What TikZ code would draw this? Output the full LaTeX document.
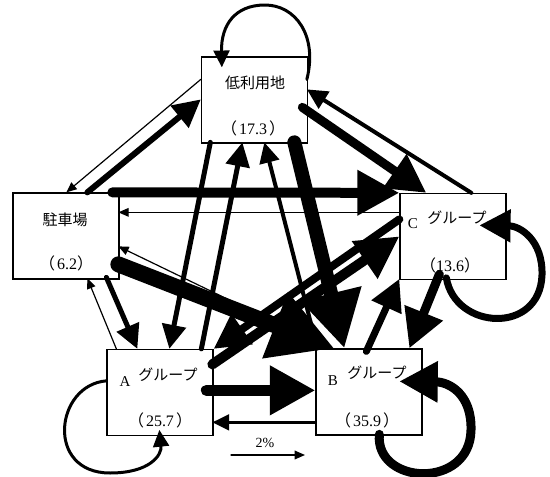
\documentclass[tikz,border=0pt]{standalone}
\usepackage{fontspec}
\setmainfont{Liberation Serif}
\newfontfamily\jp{Noto Sans CJK JP}
\usetikzlibrary{arrows.meta,calc}
\begin{document}
\begin{tikzpicture}[x=1pt,y=-1pt,
  box/.style={draw, line width=1.3pt, minimum width=106pt, minimum height=86pt, inner sep=0pt},
  fl/.style={line width=#1, line cap=round, -{Triangle[length=6pt 3.6, width=4pt 3.9]}},
  lb/.style={font=\jp\fontsize{15}{15}\selectfont, inner sep=0pt},
  num/.style={font=\fontsize{16}{16}\selectfont, inner sep=0pt},
  let/.style={font=\fontsize{15}{15}\selectfont, inner sep=0pt}
]
\useasboundingbox (0,0) rectangle (550,477);
% boxes
\node[box] (L) at (254.5,100) {};
\node[box] (P) at (66,236) {};
\node[box] (C) at (453,236.5) {};
\node[box] (A) at (160,392.5) {};
\node[box] (B) at (369,392) {};
% labels
\node[lb] (Lt) at (255,83) {低利用地};
\node[num] (Ln) at (253,128) {{\jp （}\hspace{2pt}17.3\hspace{2pt}{\jp ）}};
\node[lb] (Pt) at (65,220) {駐車場};
\node[num] (Pn) at (66,263) {{\jp （}\hspace{2pt}6.2{\jp ）}};
\node[let] (Cl) at (413,224) {C};
\node[lb] (Ct) at (457,218) {グループ};
\node[num] (Cn) at (450,265) {{\jp （}13.6{\jp ）}};
\node[let] (Al) at (125,382) {A};
\node[lb] (At) at (168,375) {グループ};
\node[num] (An) at (160,420) {{\jp （}\hspace{2pt}25.7\hspace{2pt}{\jp ）}};
\node[let] (Bl) at (333,381) {B};
\node[lb] (Bt) at (377,373) {グループ};
\node[num] (Bn) at (367,420) {{\jp （}\hspace{2pt}35.9\hspace{2pt}{\jp ）}};
% flows
\draw[fl=1.2] ($(L.north west)+(0,23)$) -- ($(P.north west)+(54,0)$);
\draw[fl=6] ($(P.north west)+(75,0)$) -- ($(L.north west)+(0,43)$);
\draw[fl=4] ($(C.north west)+(72,0)$) -- ($(L.north west)+(106,33)$);
\draw[fl=9] ($(L.north west)+(101.5,51)$) -- ($(C.north west)+(27,0)$);
\draw[fl=5] ($(L.north west)+(9.5,86)$) -- ($(A.north west)+(63,0)$);
\draw[fl=5] ($(A.north west)+(95,0)$) -- ($(L.north west)+(41.5,86)$);
\draw[fl=4] ($(B.north west)+(2,0)$) -- ($(L.north west)+(63.5,86)$);
\draw[fl=14] ($(L.north west)+(93.5,86)$) -- ($(B.north west)+(29,0)$);
\draw[fl=10] ($(P.north west)+(100,0)$) -- (C.north west);
\draw[fl=1.2] ($(C.north west)+(0,19.5)$) -- ($(P.north west)+(106,20)$);
\draw[fl=5] ($(P.north west)+(94,85)$) -- ($(A.north west)+(31,0)$);
\draw[fl=1.2] ($(A.north west)+(10,0)$) -- ($(P.north west)+(75,86)$);
\draw[fl=16] ($(P.north west)+(106,72)$) -- ($(B.north west)+(19,0)$);
\draw[fl=1.2] ($(B.north west)+(14,0)$) -- ($(P.north west)+(106,54)$);
\draw[fl=10] ($(A.north west)+(106,15.5)$) -- ($(C.north west)+(0,43.5)$);
\draw[fl=8] ($(C.north west)+(0,26.5)$) -- (A.north east);
\draw[fl=11] ($(A.north west)+(100,41.5)$) -- ($(B.north west)+(0,42)$);
\draw[fl=3] ($(B.north west)+(0,74)$) -- ($(A.north west)+(106,73.5)$);
\draw[fl=7] ($(B.north west)+(51,3)$) -- ($(C.north west)+(0,86)$);
\draw[fl=9] ($(C.north west)+(40,81.5)$) -- ($(B.north west)+(94,0)$);
% self loops
\draw[fl=3] ($(L.north west)+(106,23)$) .. controls (318,35) and (295,5) .. (265,5)
   .. controls (235,5) and (221,25) .. ($(L.north west)+(21,11)$);
\draw[fl=3] ($(A.north west)+(0,32)$) .. controls (55,385) and (45,473) .. (110,473)
   .. controls (150,473) and (162,455) .. ($(A.north west)+(53,81)$);
\draw[fl=9] ($(B.north west)+(64,86)$) .. controls (375,485) and (470,490) .. (471,430)
   .. controls (472,395) and (450,382) .. ($(B.north west)+(84,33)$);
\draw[fl=7] ($(C.north west)+(47,85)$) .. controls (455,330) and (540,335) .. (542,275)
   .. controls (543,240) and (520,226) .. ($(C.north west)+(80,32.5)$);
% legend
\coordinate (g1) at (231,455);
\coordinate (g2) at (305,455);
\draw[fl=1.2] (g1) -- (g2);
\node[font=\fontsize{14}{14}\selectfont, inner sep=0pt] (gl) at (265,443) {2\%};
\end{tikzpicture}
\end{document}
